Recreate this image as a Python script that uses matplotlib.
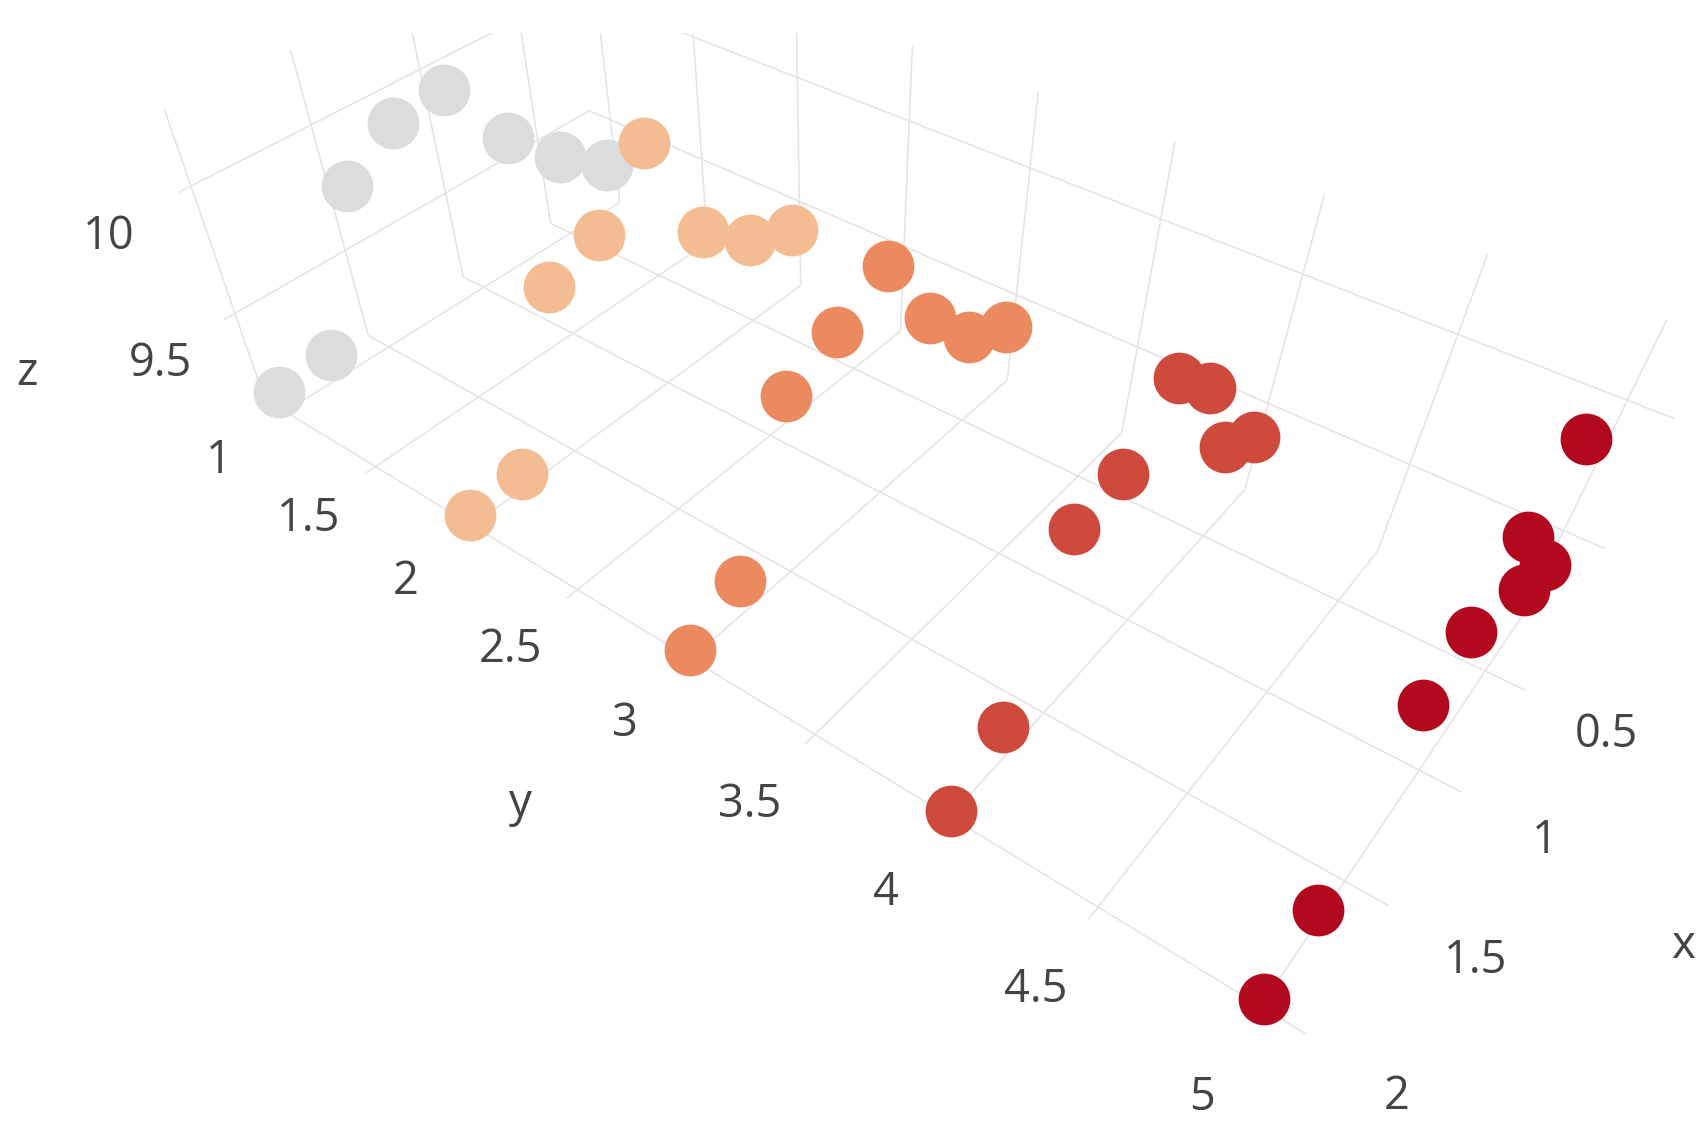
import numpy as np
import matplotlib
matplotlib.use("Agg")
import matplotlib.pyplot as plt
from matplotlib.patches import Rectangle

x_values = [2, 1.75, 1.5, 1.25, 1, 0.75, 0.5, 0.25]
y_values = [1, 2, 3, 4, 5]
z_y1 = [9.21, 9.23, 9.81, 9.94, 9.96, 9.66, 9.47, 9.32]
z_y2 = [9.17, 9.18, 9.81, 9.88, 10.10, 9.64, 9.48, 9.40]
z_y3 = [9.16, 9.27, 9.85, 9.94, 10.04, 9.71, 9.49, 9.39]
z_y4 = [9.15, 9.29, 9.89, 9.91, 10.09, 9.90, 9.51, 9.39]
z_y5 = [9.16, 9.28, 9.88, 9.93, 10.07, 10.22, 9.48, 9.39]
z_series = [z_y1, z_y2, z_y3, z_y4, z_y5]
colors = ["#dcdcdc", "#f4bc92", "#ea8a5e", "#ce4a3d", "#b2091e"]

x_ticks = [0.5, 1, 1.5, 2]
y_ticks = [1, 1.5, 2, 2.5, 3, 3.5, 4, 4.5, 5]
z_ticks = [9.5, 10]
x_tick_labels = ["0.5", "1", "1.5", "2"]
y_tick_labels = ["1", "1.5", "2", "2.5", "3", "3.5", "4", "4.5", "5"]
z_tick_labels = ["9.5", "10"]
x_lim = (0.20, 2.05)
y_lim = (0.88, 5.13)
z_lim = (9.12, 10.27)

W, H = 1708, 1127
# camera of the reference scene: (x, y, z, 1) -> image pixels
camera = np.array([
    [-98.569467, 62.229015, -44.566496, 657.259196],
    [39.678936, 30.988001, -109.104399, 1052.028343],
    [0, 0, 0, -1],
    [-0.037257, -0.029225, -0.053724, 1.0],
])

plt.rcParams["font.family"] = ["Open Sans", "DejaVu Sans"]
fig = plt.figure(figsize=((W + 0.5) / 100, (H + 0.5) / 100), dpi=100, facecolor="white")
ax = fig.add_axes([0, (H - W) / 2 / H, 1, W / H], projection="3d")
ax.set_xticks([])
ax.set_yticks([])
ax.set_zticks([])
ax.set_axis_off()
ax.computed_zorder = False
ax.set_proj_type("ortho")  # keeps mplot3d from masking points outside its unit box
ax.get_proj = lambda: camera

GRID = dict(color="#e4e4e4", lw=1.15, zorder=1, solid_capstyle="butt", clip_on=False)
x0, x1 = x_lim
y0, y1 = y_lim
z0, z1 = z_lim
for xt in x_ticks:
    ax.plot([xt, xt], [y0, y1], [z0, z0], **GRID)
    ax.plot([xt, xt], [y0, y0], [z0, z1], **GRID)
for yt in y_ticks:
    ax.plot([x0, x1], [yt, yt], [z0, z0], **GRID)
    ax.plot([x0, x0], [yt, yt], [z0, z1], **GRID)
for zt in z_ticks:
    ax.plot([x0, x0], [y0, y1], [zt, zt], **GRID)
    ax.plot([x0, x1], [y0, y0], [zt, zt], **GRID)

for i, (yv, zs, c) in enumerate(zip(y_values, z_series, colors)):
    ax.scatter(x_values, [yv] * len(x_values), zs, s=1390, c=c, linewidths=0,
               depthshade=False, alpha=1, zorder=3 + i, clip_on=False)

TXT = dict(color="#444444", fontsize=32.5, ha="center", va="center", zorder=10)
for yt, lab in zip(y_ticks, y_tick_labels):
    ax.text(2.31, yt, z0 - 0.025, lab, **TXT)
for xt, lab in zip(x_ticks, x_tick_labels):
    ax.text(xt + 0.02, 5.39, z0, lab, **TXT)
for zt, lab in zip(z_ticks, z_tick_labels):
    ax.text(2.325, y0, zt - 0.025, lab, **TXT)
TITLE = dict(TXT, fontsize=33)
ax.text(1.126, 5.814, z0, "x", **TITLE)
ax.text(2.734, 2.985, z0, "y", **TITLE)
ax.text(2.745, y0, 9.69, "z", **TITLE)

ax.viewLim.intervalx = (0, W)
ax.viewLim.intervaly = (H + (W - H) / 2, -(W - H) / 2)

# the reference scene is cut off along its top edge
fig.add_artist(Rectangle((0, 1 - 33 / H), 1, 33 / H, transform=fig.transFigure,
                         facecolor="white", edgecolor="none", zorder=20))
fig.savefig("out.png", dpi=100, facecolor="white")
